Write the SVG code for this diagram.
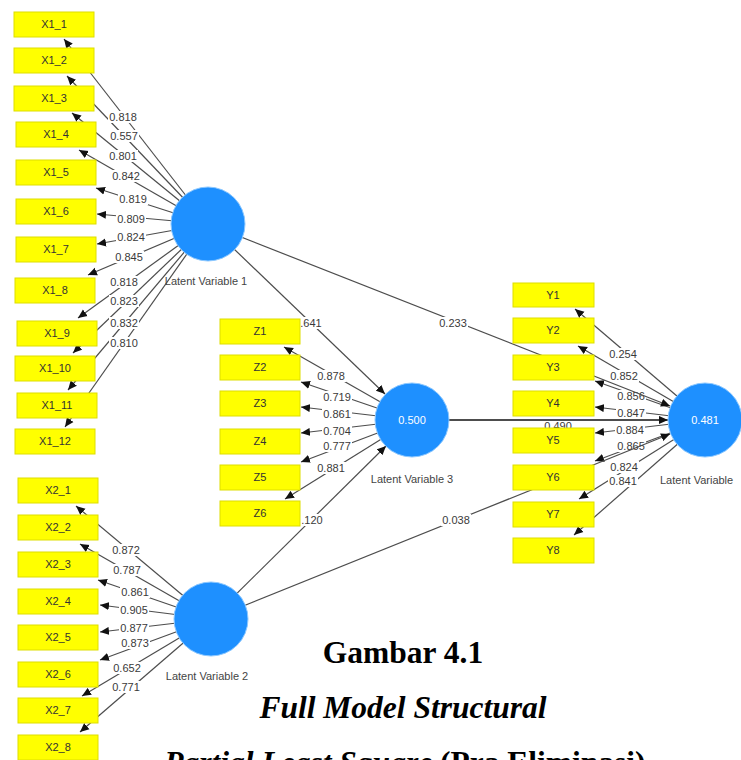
<svg xmlns="http://www.w3.org/2000/svg" width="741" height="760" viewBox="0 0 741 760">
<defs>
<marker id="ah" viewBox="0 0 10 10" refX="10" refY="5" markerWidth="9" markerHeight="9" markerUnits="userSpaceOnUse" orient="auto"><path d="M0,0.5 L10,5 L0,9.5 z" fill="#111"/></marker>
<style>
.ln{stroke:#4d4d4d;stroke-width:1.2;fill:none;marker-end:url(#ah)}
.ln2{stroke:#4d4d4d;stroke-width:2;fill:none;marker-end:url(#ah)}
.bg{fill:#fff}
.lb{font-family:"Liberation Sans",Arial,sans-serif;font-size:11px;fill:#3a3a3a;text-anchor:middle}
.box{fill:#ffff00;stroke:#dede00;stroke-width:1}
.bt{font-family:"Liberation Sans",Arial,sans-serif;font-size:11px;fill:#333;text-anchor:middle}
.lv{fill:#1e90ff;stroke:#8cc8ff;stroke-width:1}
.lt{font-family:"Liberation Sans",Arial,sans-serif;font-size:11px;fill:#444;text-anchor:middle}
.v{font-family:"Liberation Sans",Arial,sans-serif;font-size:11px;fill:#fff;text-anchor:middle}
.cap{font-family:"Liberation Serif","Times New Roman",serif;font-size:31.5px;font-weight:bold;fill:#000;text-anchor:middle}
</style>
</defs>
<rect width="741" height="760" fill="#fff"/>
<g id="connectors">
 <g id="loadings">
  <line class="ln" x1="208" y1="224" x2="64" y2="39"/>
  <line class="ln" x1="208" y1="224" x2="67" y2="76"/>
  <line class="ln" x1="208" y1="224" x2="72" y2="113"/>
  <line class="ln" x1="208" y1="224" x2="79" y2="150"/>
  <line class="ln" x1="208" y1="224" x2="96" y2="188"/>
  <line class="ln" x1="208" y1="224" x2="97" y2="214"/>
  <line class="ln" x1="208" y1="224" x2="97" y2="244"/>
  <line class="ln" x1="208" y1="224" x2="88" y2="275"/>
  <line class="ln" x1="208" y1="224" x2="78" y2="318"/>
  <line class="ln" x1="208" y1="224" x2="73" y2="353"/>
  <line class="ln" x1="208" y1="224" x2="68" y2="390"/>
  <line class="ln" x1="208" y1="224" x2="65" y2="427"/>
  <line class="ln" x1="211" y1="619" x2="76" y2="506"/>
  <line class="ln" x1="211" y1="619" x2="80" y2="544"/>
  <line class="ln" x1="211" y1="619" x2="98" y2="580"/>
  <line class="ln" x1="211" y1="619" x2="100" y2="605"/>
  <line class="ln" x1="211" y1="619" x2="100" y2="632"/>
  <line class="ln" x1="211" y1="619" x2="100" y2="660"/>
  <line class="ln" x1="211" y1="619" x2="82" y2="696"/>
  <line class="ln" x1="211" y1="619" x2="80" y2="732"/>
  <line class="ln" x1="412" y1="420" x2="284" y2="347"/>
  <line class="ln" x1="412" y1="420" x2="301" y2="382"/>
  <line class="ln" x1="412" y1="420" x2="301" y2="407"/>
  <line class="ln" x1="412" y1="420" x2="301" y2="433"/>
  <line class="ln" x1="412" y1="420" x2="301" y2="462"/>
  <line class="ln" x1="412" y1="420" x2="285" y2="499"/>
  <line class="ln" x1="705" y1="420" x2="575" y2="309"/>
  <line class="ln" x1="705" y1="420" x2="578" y2="346"/>
  <line class="ln" x1="705" y1="420" x2="595" y2="381"/>
  <line class="ln" x1="705" y1="420" x2="595" y2="407"/>
  <line class="ln" x1="705" y1="420" x2="595" y2="433"/>
  <line class="ln" x1="705" y1="420" x2="595" y2="461"/>
  <line class="ln" x1="705" y1="420" x2="579" y2="499"/>
  <line class="ln" x1="705" y1="420" x2="574" y2="535"/>
 </g>
 <g id="loading-labels">
  <g transform="translate(123,117)"><rect class="bg" x="-15" y="-6" width="30" height="12"/><text class="lb" y="4">0.818</text></g>
  <g transform="translate(124,136)"><rect class="bg" x="-15" y="-6" width="30" height="12"/><text class="lb" y="4">0.557</text></g>
  <g transform="translate(123,156)"><rect class="bg" x="-15" y="-6" width="30" height="12"/><text class="lb" y="4">0.801</text></g>
  <g transform="translate(126,176)"><rect class="bg" x="-15" y="-6" width="30" height="12"/><text class="lb" y="4">0.842</text></g>
  <g transform="translate(133,199)"><rect class="bg" x="-15" y="-6" width="30" height="12"/><text class="lb" y="4">0.819</text></g>
  <g transform="translate(131,219)"><rect class="bg" x="-15" y="-6" width="30" height="12"/><text class="lb" y="4">0.809</text></g>
  <g transform="translate(131,237)"><rect class="bg" x="-15" y="-6" width="30" height="12"/><text class="lb" y="4">0.824</text></g>
  <g transform="translate(129,257)"><rect class="bg" x="-15" y="-6" width="30" height="12"/><text class="lb" y="4">0.845</text></g>
  <g transform="translate(124,282)"><rect class="bg" x="-15" y="-6" width="30" height="12"/><text class="lb" y="4">0.818</text></g>
  <g transform="translate(124,301)"><rect class="bg" x="-15" y="-6" width="30" height="12"/><text class="lb" y="4">0.823</text></g>
  <g transform="translate(124,323)"><rect class="bg" x="-15" y="-6" width="30" height="12"/><text class="lb" y="4">0.832</text></g>
  <g transform="translate(124,343)"><rect class="bg" x="-15" y="-6" width="30" height="12"/><text class="lb" y="4">0.810</text></g>
  <g transform="translate(126,550)"><rect class="bg" x="-15" y="-6" width="30" height="12"/><text class="lb" y="4">0.872</text></g>
  <g transform="translate(127,570)"><rect class="bg" x="-15" y="-6" width="30" height="12"/><text class="lb" y="4">0.787</text></g>
  <g transform="translate(135,592)"><rect class="bg" x="-15" y="-6" width="30" height="12"/><text class="lb" y="4">0.861</text></g>
  <g transform="translate(134,610)"><rect class="bg" x="-15" y="-6" width="30" height="12"/><text class="lb" y="4">0.905</text></g>
  <g transform="translate(134,628)"><rect class="bg" x="-15" y="-6" width="30" height="12"/><text class="lb" y="4">0.877</text></g>
  <g transform="translate(135,643)"><rect class="bg" x="-15" y="-6" width="30" height="12"/><text class="lb" y="4">0.873</text></g>
  <g transform="translate(127,668)"><rect class="bg" x="-15" y="-6" width="30" height="12"/><text class="lb" y="4">0.652</text></g>
  <g transform="translate(126,687)"><rect class="bg" x="-15" y="-6" width="30" height="12"/><text class="lb" y="4">0.771</text></g>
  <g transform="translate(331,376)"><rect class="bg" x="-15" y="-6" width="30" height="12"/><text class="lb" y="4">0.878</text></g>
  <g transform="translate(337,397)"><rect class="bg" x="-15" y="-6" width="30" height="12"/><text class="lb" y="4">0.719</text></g>
  <g transform="translate(337,414)"><rect class="bg" x="-15" y="-6" width="30" height="12"/><text class="lb" y="4">0.861</text></g>
  <g transform="translate(337,431)"><rect class="bg" x="-15" y="-6" width="30" height="12"/><text class="lb" y="4">0.704</text></g>
  <g transform="translate(337,446)"><rect class="bg" x="-15" y="-6" width="30" height="12"/><text class="lb" y="4">0.777</text></g>
  <g transform="translate(331,468)"><rect class="bg" x="-15" y="-6" width="30" height="12"/><text class="lb" y="4">0.881</text></g>
  <g transform="translate(623,354)"><rect class="bg" x="-15" y="-6" width="30" height="12"/><text class="lb" y="4">0.254</text></g>
  <g transform="translate(624,376)"><rect class="bg" x="-15" y="-6" width="30" height="12"/><text class="lb" y="4">0.852</text></g>
  <g transform="translate(631,396)"><rect class="bg" x="-15" y="-6" width="30" height="12"/><text class="lb" y="4">0.856</text></g>
  <g transform="translate(631,413)"><rect class="bg" x="-15" y="-6" width="30" height="12"/><text class="lb" y="4">0.847</text></g>
  <g transform="translate(630,430)"><rect class="bg" x="-15" y="-6" width="30" height="12"/><text class="lb" y="4">0.884</text></g>
  <g transform="translate(631,446)"><rect class="bg" x="-15" y="-6" width="30" height="12"/><text class="lb" y="4">0.865</text></g>
  <g transform="translate(624,467)"><rect class="bg" x="-15" y="-6" width="30" height="12"/><text class="lb" y="4">0.824</text></g>
  <g transform="translate(623,481)"><rect class="bg" x="-15" y="-6" width="30" height="12"/><text class="lb" y="4">0.841</text></g>
 </g>
 <g id="paths">
  <line class="ln" x1="208" y1="224" x2="385" y2="394"/>
  <line class="ln" x1="208" y1="224" x2="670" y2="406"/>
  <line class="ln" x1="211" y1="619" x2="386" y2="446"/>
  <line class="ln" x1="211" y1="619" x2="670" y2="434"/>
  <line class="ln2" x1="412" y1="420" x2="668" y2="420"/>
  <text class="lb" x="558" y="430">0.490</text>
  <g transform="translate(311,323)"><rect class="bg" x="-11" y="-6" width="23" height="12"/><text class="lb" y="4">.641</text></g>
  <g transform="translate(453,323)"><rect class="bg" x="-15" y="-6" width="30" height="12"/><text class="lb" y="4">0.233</text></g>
  <g transform="translate(312,520)"><rect class="bg" x="-11" y="-6" width="23" height="12"/><text class="lb" y="4">.120</text></g>
  <g transform="translate(456,520)"><rect class="bg" x="-15" y="-6" width="30" height="12"/><text class="lb" y="4">0.038</text></g>
 </g>
</g>
<g id="X1_1"><rect class="box" x="14" y="12" width="80" height="25"/><text class="bt" x="54" y="28">X1_1</text></g>
<g id="X1_2"><rect class="box" x="14" y="48" width="80" height="25"/><text class="bt" x="54" y="64">X1_2</text></g>
<g id="X1_3"><rect class="box" x="14" y="86" width="80" height="25"/><text class="bt" x="54" y="102">X1_3</text></g>
<g id="X1_4"><rect class="box" x="16" y="122" width="80" height="25"/><text class="bt" x="56" y="138">X1_4</text></g>
<g id="X1_5"><rect class="box" x="16" y="160" width="80" height="25"/><text class="bt" x="56" y="176">X1_5</text></g>
<g id="X1_6"><rect class="box" x="16" y="199" width="80" height="25"/><text class="bt" x="56" y="215">X1_6</text></g>
<g id="X1_7"><rect class="box" x="16" y="237" width="80" height="25"/><text class="bt" x="56" y="253">X1_7</text></g>
<g id="X1_8"><rect class="box" x="15" y="278" width="80" height="25"/><text class="bt" x="55" y="294">X1_8</text></g>
<g id="X1_9"><rect class="box" x="17" y="321" width="80" height="25"/><text class="bt" x="57" y="337">X1_9</text></g>
<g id="X1_10"><rect class="box" x="15" y="356" width="80" height="25"/><text class="bt" x="55" y="372">X1_10</text></g>
<g id="X1_11"><rect class="box" x="17" y="393" width="80" height="25"/><text class="bt" x="57" y="409">X1_11</text></g>
<g id="X1_12"><rect class="box" x="15" y="429" width="80" height="25"/><text class="bt" x="55" y="445">X1_12</text></g>
<g id="X2_1"><rect class="box" x="18" y="478" width="80" height="25"/><text class="bt" x="58" y="494">X2_1</text></g>
<g id="X2_2"><rect class="box" x="18" y="515" width="80" height="25"/><text class="bt" x="58" y="531">X2_2</text></g>
<g id="X2_3"><rect class="box" x="18" y="552" width="80" height="25"/><text class="bt" x="58" y="568">X2_3</text></g>
<g id="X2_4"><rect class="box" x="18" y="589" width="80" height="25"/><text class="bt" x="58" y="605">X2_4</text></g>
<g id="X2_5"><rect class="box" x="18" y="625" width="80" height="25"/><text class="bt" x="58" y="641">X2_5</text></g>
<g id="X2_6"><rect class="box" x="18" y="662" width="80" height="25"/><text class="bt" x="58" y="678">X2_6</text></g>
<g id="X2_7"><rect class="box" x="18" y="698" width="80" height="25"/><text class="bt" x="58" y="714">X2_7</text></g>
<g id="X2_8"><rect class="box" x="18" y="735" width="80" height="25"/><text class="bt" x="58" y="751">X2_8</text></g>
<g id="Z1"><rect class="box" x="220" y="319" width="80" height="25"/><text class="bt" x="260" y="335">Z1</text></g>
<g id="Z2"><rect class="box" x="220" y="355" width="80" height="25"/><text class="bt" x="260" y="371">Z2</text></g>
<g id="Z3"><rect class="box" x="220" y="391" width="80" height="25"/><text class="bt" x="260" y="407">Z3</text></g>
<g id="Z4"><rect class="box" x="220" y="429" width="80" height="25"/><text class="bt" x="260" y="445">Z4</text></g>
<g id="Z5"><rect class="box" x="220" y="465" width="80" height="25"/><text class="bt" x="260" y="481">Z5</text></g>
<g id="Z6"><rect class="box" x="220" y="501" width="80" height="25"/><text class="bt" x="260" y="517">Z6</text></g>
<g id="Y1"><rect class="box" x="513" y="283" width="81" height="24"/><text class="bt" x="553" y="299">Y1</text></g>
<g id="Y2"><rect class="box" x="513" y="318" width="81" height="25"/><text class="bt" x="553" y="334">Y2</text></g>
<g id="Y3"><rect class="box" x="513" y="355" width="81" height="25"/><text class="bt" x="553" y="371">Y3</text></g>
<g id="Y4"><rect class="box" x="513" y="391" width="81" height="25"/><text class="bt" x="553" y="407">Y4</text></g>
<g id="Y5"><rect class="box" x="513" y="428" width="81" height="25"/><text class="bt" x="553" y="444">Y5</text></g>
<g id="Y6"><rect class="box" x="513" y="465" width="81" height="25"/><text class="bt" x="553" y="481">Y6</text></g>
<g id="Y7"><rect class="box" x="513" y="502" width="81" height="25"/><text class="bt" x="553" y="518">Y7</text></g>
<g id="Y8"><rect class="box" x="513" y="538" width="81" height="25"/><text class="bt" x="553" y="554">Y8</text></g>
<g id="LV1"><circle class="lv" cx="208" cy="224" r="37"/><text class="lt" x="206" y="285">Latent Variable 1</text></g>
<g id="LV2"><circle class="lv" cx="211" cy="619" r="37"/><text class="lt" x="207" y="680">Latent Variable 2</text></g>
<g id="LV3"><circle class="lv" cx="412" cy="420" r="37"/><text class="v" x="412" y="424">0.500</text><text class="lt" x="412" y="483">Latent Variable 3</text></g>
<g id="LV4"><circle class="lv" cx="705" cy="420" r="37"/><text class="v" x="705" y="424">0.481</text><text class="lt" x="660" y="484" style="text-anchor:start">Latent Variable</text></g>
<g id="caption">
 <text class="cap" x="403" y="663">Gambar 4.1</text>
 <text class="cap" x="403" y="718" font-style="italic">Full Model Structural</text>
 <text class="cap" x="405" y="773"><tspan font-style="italic">Partial Least Square</tspan> (Pra Eliminasi)</text>
</g>
</svg>
